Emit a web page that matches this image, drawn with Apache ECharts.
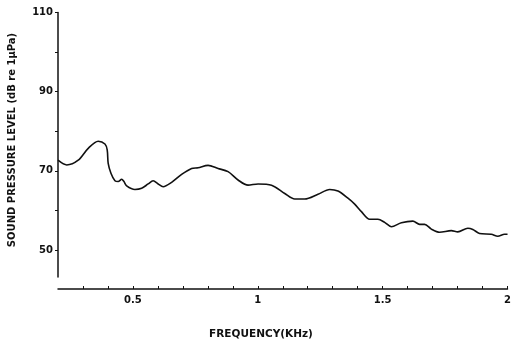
<!DOCTYPE html>
<html>
<head>
<meta charset="utf-8">
<script src="https://cdn.jsdelivr.net/npm/echarts@6/dist/echarts.min.js"></script>
<style>
html,body{margin:0;padding:0;background:#fff;}
#chart{width:514px;height:342px;}
</style>
</head>
<body>
<div id="chart"></div>
<script>
// Frequency (kHz) and sound pressure level (dB re 1µPa)
var freqKHz = [0.2, 0.235, 0.281, 0.321, 0.361, 0.388, 0.397, 0.401, 0.412, 0.428, 0.441, 0.455, 0.464, 0.475, 0.508, 0.535, 0.561, 0.581, 0.601, 0.621, 0.655, 0.695, 0.735, 0.761, 0.801, 0.841, 0.881, 0.921, 0.961, 1.001, 1.055, 1.108, 1.148, 1.188, 1.241, 1.288, 1.321, 1.361, 1.388, 1.415, 1.448, 1.481, 1.508, 1.535, 1.575, 1.621, 1.648, 1.668, 1.695, 1.728, 1.775, 1.801, 1.841, 1.861, 1.888, 1.935, 1.961, 1.988, 2.0];
var splDb = [72.7, 71.5, 72.7, 75.7, 77.5, 76.8, 75.3, 71.9, 69.4, 67.5, 67.3, 67.9, 67.3, 66.2, 65.3, 65.6, 66.7, 67.5, 66.7, 66.0, 67.1, 69.1, 70.6, 70.8, 71.4, 70.6, 69.8, 67.7, 66.4, 66.7, 66.4, 64.3, 62.9, 62.9, 64.1, 65.3, 64.9, 63.1, 61.6, 59.7, 57.8, 57.8, 57.0, 55.9, 56.9, 57.3, 56.5, 56.5, 55.3, 54.5, 54.9, 54.6, 55.5, 55.2, 54.2, 54.0, 53.5, 54.0, 54.0];
var xTickValues = [0.3, 0.4, 0.5, 0.6, 0.7, 0.8, 0.9, 1.0, 1.1, 1.2, 1.3, 1.4, 1.5, 1.6, 1.7, 1.8, 1.9, 2.0];
var xLabelValues = [0.5, 1, 1.5, 2];
var yTickValues = [50, 60, 70, 80, 90, 100, 110];
var yLabelValues = [50, 70, 90, 110];
var yTitle = 'SOUND PRESSURE LEVEL (dB re 1\u00b5Pa)';
var xTitle = 'FREQUENCY(KHz)';

var pts = freqKHz.map(function (f, i) { return [f, splDb[i]]; });
var chart = echarts.init(document.getElementById('chart'), null, {renderer: 'canvas'});
var fontFam = '"DejaVu Sans", Arial, sans-serif';
chart.setOption({
  animation: false,
  backgroundColor: '#fff',
  grid: {left: 58, right: 6, top: 12.5, bottom: 65},
  xAxis: {
    type: 'value', min: 0.2, max: 2.0, offset: 12,
    splitLine: {show: false},
    axisLine: {lineStyle: {color: '#111', width: 1.5}},
    axisTick: {inside: true, length: 3, customValues: xTickValues, lineStyle: {color: '#111', width: 1}},
    axisLabel: {customValues: xLabelValues, margin: 6, color: '#111', fontWeight: 'bold', fontSize: 10, fontFamily: fontFam,
      formatter: function (v) { return String(v); }}
  },
  yAxis: {
    type: 'value', min: 43.2, max: 110,
    splitLine: {show: false},
    axisLine: {lineStyle: {color: '#111', width: 1.5}},
    axisTick: {length: 3, customValues: yTickValues, lineStyle: {color: '#111', width: 1}},
    axisLabel: {customValues: yLabelValues, margin: 5, color: '#111', fontWeight: 'bold', fontSize: 10, fontFamily: fontFam}
  },
  graphic: [
    {type: 'text', x: 12, y: 140, rotation: Math.PI / 2,
      style: {text: yTitle, fill: '#111', font: 'bold 10px ' + fontFam, textAlign: 'center', textVerticalAlign: 'middle'}},
    {type: 'text', x: 261, y: 334.5,
      style: {text: xTitle, fill: '#111', font: 'bold 10.5px ' + fontFam, textAlign: 'center', textVerticalAlign: 'middle'}}
  ],
  series: [{
    type: 'line', data: pts, showSymbol: false, smooth: 0.3,
    lineStyle: {color: '#111', width: 1.6}
  }]
});
</script>
</body>
</html>
